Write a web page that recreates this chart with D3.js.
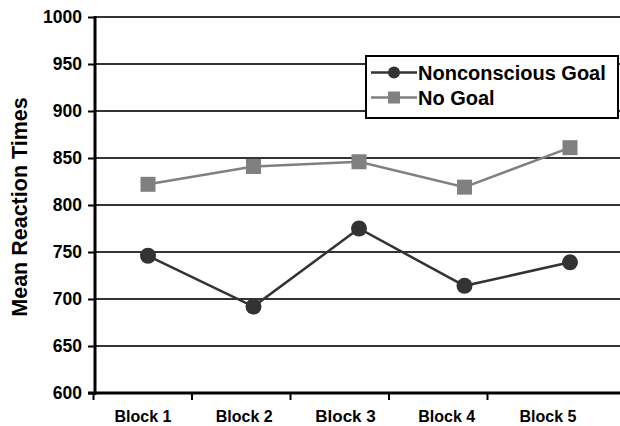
<!DOCTYPE html>
<html>
<head>
<meta charset="utf-8">
<script src="https://cdn.jsdelivr.net/npm/d3@7"></script>
<style>
  html, body { margin: 0; padding: 0; background: #fff; }
  svg { display: block; font-family: "Liberation Sans", Arial, sans-serif; font-weight: bold; }
</style>
</head>
<body>
<svg id="chart" width="620" height="426"></svg>
<script>
// Mean reaction times per block, by goal condition
const blocks = ["Block 1", "Block 2", "Block 3", "Block 4", "Block 5"];
const nonconsciousGoal = [746, 692, 775, 714, 739];
const noGoal = [822, 841, 846, 819, 861];
const yTicks = [600, 650, 700, 750, 800, 850, 900, 950, 1000];
const seriesNames = ["Nonconscious Goal", "No Goal"];

const svg = d3.select("#chart");

const plotLeft = 95, plotRight = 620, plotTop = 17, plotBottom = 393;

const y = d3.scaleLinear().domain([600, 1000]).range([plotBottom, plotTop]);
// marker positions along the category axis
const x = d3.scalePoint().domain(blocks).range([148, 570]);
// tick-mark boundaries of the category axis
const xTick = d3.scaleLinear().domain([0, blocks.length]).range([93.5, 586]);
// category label centres
const xLabel = d3.scalePoint().domain(blocks).range([143, 548]);

// horizontal gridlines
svg.append("g")
  .selectAll("line")
  .data(yTicks.filter(t => t > 600))
  .join("line")
  .attr("x1", plotLeft).attr("x2", plotRight)
  .attr("y1", d => y(d)).attr("y2", d => y(d))
  .attr("stroke", "#333").attr("stroke-width", 2);

// y axis
const yAxis = svg.append("g")
  .attr("transform", `translate(${plotLeft},0)`)
  .call(d3.axisLeft(y).tickValues(yTicks).tickSize(7).tickPadding(6).tickFormat(d3.format("d")));
yAxis.select(".domain").remove();
yAxis.selectAll(".tick line").attr("stroke", "#000").attr("stroke-width", 2);
yAxis.selectAll(".tick text")
  .attr("fill", "#000")
  .style("font-size", "17.5px")
  .style("font-weight", "bold")
  .style("font-family", "'Liberation Sans', Arial, sans-serif");
svg.append("line")
  .attr("x1", plotLeft).attr("x2", plotLeft)
  .attr("y1", plotTop - 1).attr("y2", plotBottom + 2)
  .attr("stroke", "#000").attr("stroke-width", 3);

// x axis line and tick marks
svg.append("line")
  .attr("x1", plotLeft - 7).attr("x2", plotRight)
  .attr("y1", plotBottom).attr("y2", plotBottom)
  .attr("stroke", "#000").attr("stroke-width", 3);
svg.append("g")
  .selectAll("line")
  .data(d3.range(blocks.length))
  .join("line")
  .attr("x1", d => xTick(d)).attr("x2", d => xTick(d))
  .attr("y1", plotBottom).attr("y2", plotBottom + 7)
  .attr("stroke", "#000").attr("stroke-width", 2);

// category labels (the middle one sits slightly lower and larger)
svg.append("g")
  .selectAll("text")
  .data(blocks)
  .join("text")
  .attr("x", d => xLabel(d))
  .attr("y", (d, i) => i === 2 ? 422.2 : 421.5)
  .attr("text-anchor", "middle")
  .style("font-size", (d, i) => i === 2 ? "17px" : "16px")
  .text(d => d);

// y axis title
svg.append("text")
  .attr("transform", `translate(27,${(plotTop + plotBottom) / 2 + 2}) rotate(-90)`)
  .attr("text-anchor", "middle")
  .style("font-size", "21.5px")
  .text("Mean Reaction Times");

const line = d3.line().x((d, i) => x(blocks[i])).y(d => y(d));

// No Goal series
svg.append("path")
  .datum(noGoal)
  .attr("d", line)
  .attr("fill", "none").attr("stroke", "#808080").attr("stroke-width", 2.5);
svg.append("g")
  .selectAll("rect")
  .data(noGoal)
  .join("rect")
  .attr("x", (d, i) => x(blocks[i]) - 7.5)
  .attr("y", d => y(d) - 7.5)
  .attr("width", 15).attr("height", 15)
  .attr("fill", "#808080");

// Nonconscious Goal series
svg.append("path")
  .datum(nonconsciousGoal)
  .attr("d", line)
  .attr("fill", "none").attr("stroke", "#333").attr("stroke-width", 2.5);
svg.append("g")
  .selectAll("circle")
  .data(nonconsciousGoal)
  .join("circle")
  .attr("cx", (d, i) => x(blocks[i]))
  .attr("cy", d => y(d))
  .attr("r", 8)
  .attr("fill", "#333");

// legend
const legend = svg.append("g");
legend.append("rect")
  .attr("x", 366).attr("y", 56).attr("width", 252).attr("height", 62)
  .attr("fill", "#fff").attr("stroke", "#000").attr("stroke-width", 2);
const legendRows = [
  { name: seriesNames[0], color: "#333", shape: "circle", cy: 72.5 },
  { name: seriesNames[1], color: "#808080", shape: "square", cy: 97.5 }
];
legendRows.forEach(r => {
  legend.append("line")
    .attr("x1", 371).attr("x2", 417)
    .attr("y1", r.cy).attr("y2", r.cy)
    .attr("stroke", r.color).attr("stroke-width", 2.5);
  if (r.shape === "circle") {
    legend.append("circle").attr("cx", 394).attr("cy", r.cy).attr("r", 6).attr("fill", r.color);
  } else {
    legend.append("rect").attr("x", 388).attr("y", r.cy - 6).attr("width", 12).attr("height", 12).attr("fill", r.color);
  }
  legend.append("text")
    .attr("x", 418).attr("y", r.cy + 7)
    .style("font-size", "20px")
    .text(r.name);
});
</script>
</body>
</html>
